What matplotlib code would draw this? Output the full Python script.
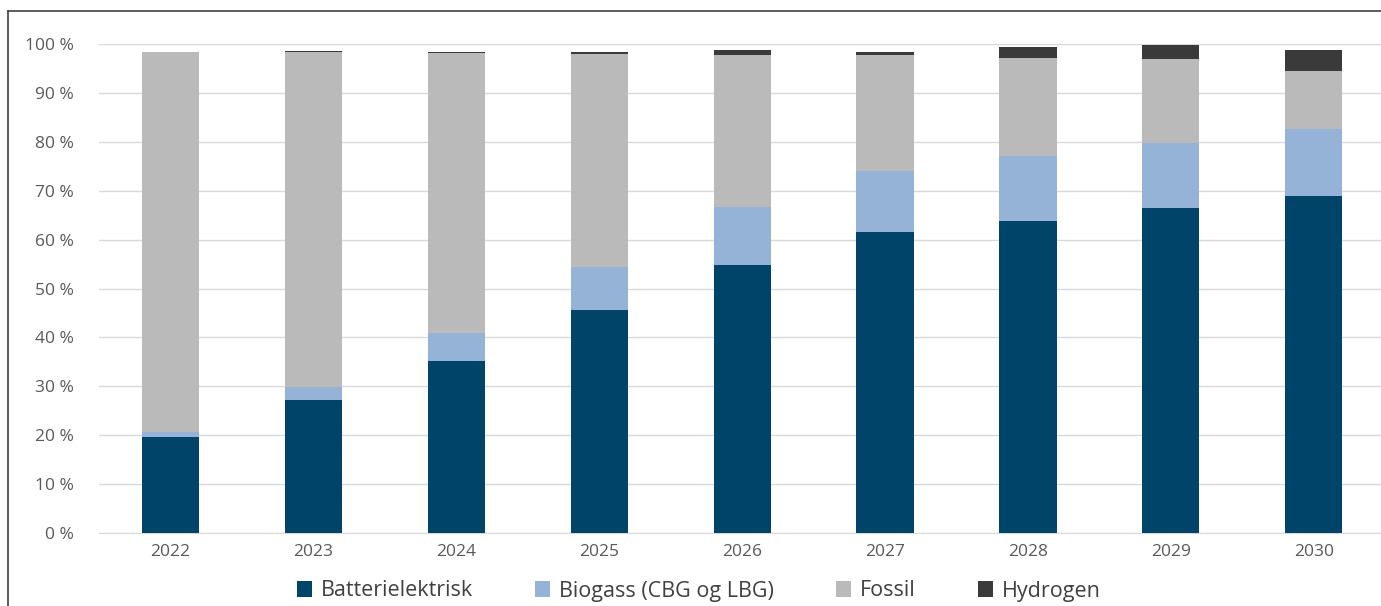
import matplotlib
matplotlib.use("Agg")
import matplotlib.pyplot as plt
from matplotlib.lines import Line2D
import numpy as np

years = ["2022", "2023", "2024", "2025", "2026", "2027", "2028", "2029", "2030"]
batterielektrisk = [19.6, 27.2, 35.2, 45.6, 54.8, 61.6, 63.8, 66.5, 68.9]
biogass = [1.1, 2.7, 5.7, 8.8, 11.9, 12.4, 13.3, 13.3, 13.7]
fossil = [77.7, 68.4, 57.3, 43.6, 31.0, 23.7, 20.1, 17.1, 11.9]
hydrogen = [0.0, 0.2, 0.2, 0.3, 1.1, 0.6, 2.1, 2.9, 4.2]

series = [
    ("Batterielektrisk", batterielektrisk, "#00446A"),
    ("Biogass (CBG og LBG)", biogass, "#95B3D7"),
    ("Fossil", fossil, "#BABABA"),
    ("Hydrogen", hydrogen, "#3A3A3A"),
]

plt.rcParams['font.family'] = ['Open Sans', 'DejaVu Sans']

fig = plt.figure(figsize=(13.81, 6.06), dpi=100)
ax = fig.add_axes([99 / 1381, 1 - 533 / 606, 1 - 99 / 1381, (533 - 44) / 606])

x = np.arange(len(years))
bottom = np.zeros(len(years))
for name, vals, col in series:
    ax.bar(x, vals, width=0.4, bottom=bottom, color=col, label=name,
           edgecolor="none", zorder=3)
    bottom += np.array(vals)

ax.set_ylim(0, 100)
ax.set_xlim(-0.5, 8.47)
ax.set_yticks(range(0, 101, 10))
ax.set_yticklabels([f"{v} %" for v in range(0, 101, 10)])
ax.set_xticks(x)
ax.set_xticklabels(years)
ax.tick_params(axis="both", length=0, colors="#595959", labelsize=12.5)
ax.tick_params(axis="y", pad=18)
ax.tick_params(axis="x", pad=8)
ax.grid(axis="y", color="#D9D9D9", linewidth=1, zorder=0)
for s in ["top", "right", "left"]:
    ax.spines[s].set_visible(False)
ax.spines["bottom"].set_color("#D9D9D9")

leg = fig.legend(loc="center", bbox_to_anchor=(0.506, 1 - 591 / 606), ncol=4,
                 frameon=False, fontsize=15.5, handlelength=0.7, handleheight=0.7,
                 columnspacing=2.9, handletextpad=0.4)
for t in leg.get_texts():
    t.set_color("#404040")

# outer frame (left and top edges)
fig.add_artist(Line2D([8 / 1381, 8 / 1381], [0, 1 - 11 / 606], color="#404040", lw=1.2,
                      transform=fig.transFigure))
fig.add_artist(Line2D([8 / 1381, 1], [1 - 11 / 606, 1 - 11 / 606], color="#404040", lw=1.2,
                      transform=fig.transFigure))

fig.savefig("out.png", dpi=100)
